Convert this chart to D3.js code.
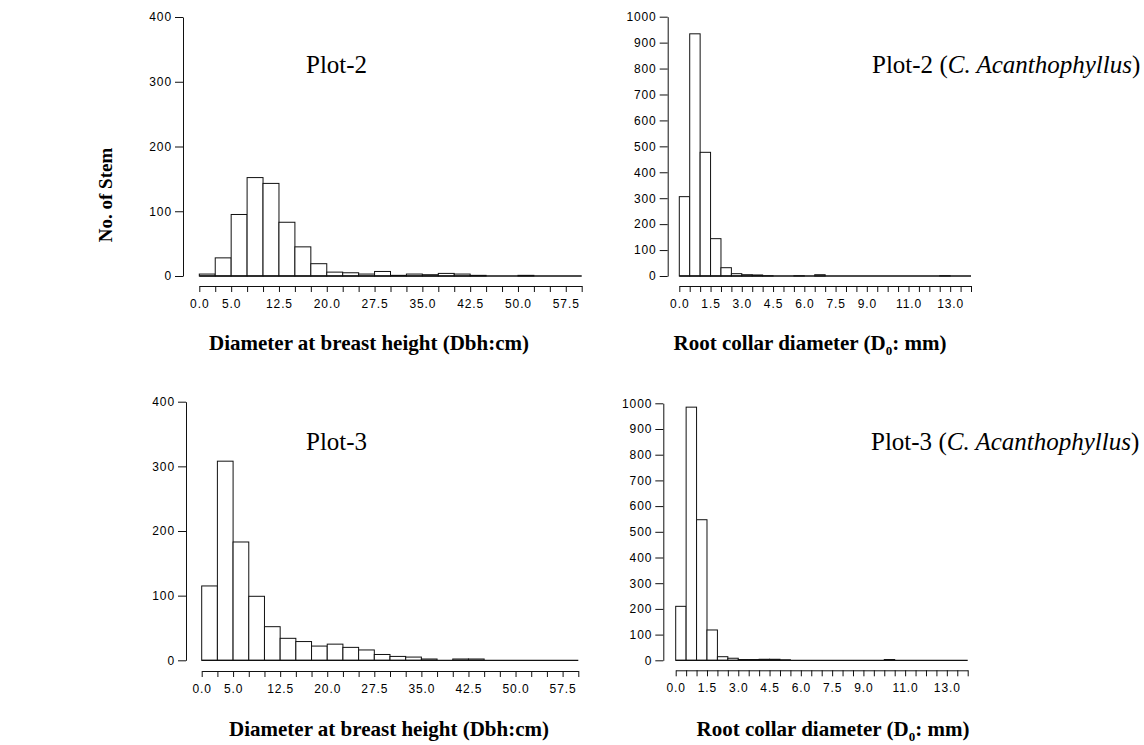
<!DOCTYPE html>
<html>
<head>
<meta charset="utf-8">
<script src="https://cdn.jsdelivr.net/npm/d3@7"></script>
<style>
  body { margin: 0; background: #fff; }
  svg { display: block; }
</style>
</head>
<body>
<script>
'use strict';

// histogram counts, one value per bin
const dbhBinWidth = 2.5;   // cm
const rcdBinWidth = 0.5;   // mm

const plot2Dbh = [3, 28, 95, 152, 143, 83, 45, 19, 6, 5, 3, 7, 1, 3, 2, 4, 3, 1, 0, 0, 1, 0, 0, 0];
const plot3Dbh = [115, 308, 183, 99, 52, 34, 29, 22, 25, 20, 16, 9, 6, 5, 2, 0, 2, 2, 0, 0, 0, 0, 0, 0];

const plot2Rcd = [306, 934, 477, 144, 32, 9, 5, 4, 1, 0, 0, 1, 0, 5, 0, 0, 0, 0, 0, 0,
                  0, 0, 0, 0, 0, 1, 0, 0];
const plot3Rcd = [210, 985, 547, 118, 14, 8, 3, 3, 4, 4, 2, 0, 0, 0, 0, 0, 0, 0, 0, 0,
                  3, 0, 0, 0, 0, 0, 0, 0];

// tick labels that are printed (the rest of the ticks stay unlabelled)
const dbhTickLabels = [0, 5, 12.5, 20, 27.5, 35, 42.5, 50, 57.5];
const rcdTickLabels = [0, 1.5, 3, 4.5, 6, 7.5, 9, 11, 13];
const dbhYTicks = [0, 100, 200, 300, 400];
const rcdYTicks = [0, 100, 200, 300, 400, 500, 600, 700, 800, 900, 1000];

const svg = d3.select('body')
  .append('svg')
  .attr('width', 1144)
  .attr('height', 745);

const serif = '"Liberation Serif", "Times New Roman", serif';
const sans = '"Liberation Sans", Arial, sans-serif';

// one histogram panel
function drawPanel(p) {
  let nBins = p.counts.length;
  let xMax = nBins * p.binWidth;

  let x = d3.scaleLinear()
    .domain([0, xMax])
    .range([p.x0, p.x1]);

  let y = d3.scaleLinear()
    .domain([0, p.yMax])
    .range([p.y0, p.yTop]);

  let g = svg.append('g');

  // bars
  g.selectAll('.bar')
    .data(p.counts)
    .enter()
    .append('rect')
      .attr('x', (d, i) => x(i * p.binWidth))
      .attr('y', (d) => y(d))
      .attr('width', x(p.binWidth) - x(0))
      .attr('height', (d) => y(0) - y(d))
      .attr('fill', '#fff')
      .attr('stroke', '#111')
      .attr('stroke-width', 1);

  // empty bins still leave a flat line on the base (like R's hist)
  g.append('line')
    .attr('x1', x(0))
    .attr('x2', x(xMax))
    .attr('y1', y(0))
    .attr('y2', y(0))
    .attr('stroke', '#111')
    .attr('stroke-width', 1.3);

  // y axis
  let yAxis = d3.axisLeft(y)
    .tickValues(p.yTicks)
    .tickSize(8)
    .tickSizeOuter(0)
    .tickPadding(3)
    .tickFormat(d3.format('d'));
  g.append('g')
    .attr('transform', 'translate(' + p.yAxisX + ',0)')
    .call(yAxis)
    .attr('font-family', sans)
    .attr('font-size', 12)
    .attr('letter-spacing', 0.9);

  // x axis, drawn a little below the bars like R does
  let edges = d3.range(nBins + 1).map((i) => i * p.binWidth);
  let xAxis = d3.axisBottom(x)
    .tickValues(edges)
    .tickSize(6)
    .tickSizeOuter(0)
    .tickPadding(7)
    .tickFormat((d) => p.xLabels.some((v) => Math.abs(v - d) < 1e-9) ? d.toFixed(1) : '');
  g.append('g')
    .attr('transform', 'translate(0,' + p.xAxisY + ')')
    .call(xAxis)
    .attr('font-family', sans)
    .attr('font-size', 12)
    .attr('letter-spacing', 0.9);

  g.selectAll('.domain, .tick line').attr('stroke', '#111');

  // plot name inside the panel
  let title = g.append('text')
    .attr('x', p.titleX)
    .attr('y', p.titleY)
    .attr('font-family', serif)
    .attr('font-size', 25)
    .attr('fill', '#000');
  title.append('tspan').text(p.title);
  if (p.species) {
    title.append('tspan').text(' (');
    title.append('tspan').attr('font-style', 'italic').text(p.species);
    title.append('tspan').text(')');
  }

  // x axis title
  let xt = g.append('text')
    .attr('x', p.xTitleX)
    .attr('y', p.xTitleY)
    .attr('text-anchor', 'middle')
    .attr('font-family', serif)
    .attr('font-weight', 'bold')
    .attr('font-size', 21)
    .attr('fill', '#000');
  if (p.rcd) {
    xt.append('tspan').text('Root collar diameter (D');
    xt.append('tspan').attr('font-size', 13).attr('dy', 5).text('0');
    xt.append('tspan').attr('dy', -5).text(': mm)');
  } else {
    xt.text('Diameter at breast height (Dbh:cm)');
  }
}

drawPanel({
  counts: plot2Dbh, binWidth: dbhBinWidth, yMax: 400, yTicks: dbhYTicks, xLabels: dbhTickLabels,
  x0: 199.3, x1: 581.7, y0: 276, yTop: 17, yAxisX: 183, xAxisY: 286,
  title: 'Plot-2', titleX: 306, titleY: 73, xTitleX: 369, xTitleY: 350
});

drawPanel({
  counts: plot2Rcd, binWidth: rcdBinWidth, yMax: 1000, yTicks: rcdYTicks, xLabels: rcdTickLabels,
  x0: 679.3, x1: 971, y0: 276, yTop: 16.7, yAxisX: 667.7, xAxisY: 286,
  title: 'Plot-2', species: 'C. Acanthophyllus', titleX: 872, titleY: 73,
  rcd: true, xTitleX: 810, xTitleY: 350
});

drawPanel({
  counts: plot3Dbh, binWidth: dbhBinWidth, yMax: 400, yTicks: dbhYTicks, xLabels: dbhTickLabels,
  x0: 201.7, x1: 578.3, y0: 660.3, yTop: 401.7, yAxisX: 186, xAxisY: 671,
  title: 'Plot-3', titleX: 306, titleY: 450, xTitleX: 389, xTitleY: 736
});

drawPanel({
  counts: plot3Rcd, binWidth: rcdBinWidth, yMax: 1000, yTicks: rcdYTicks, xLabels: rcdTickLabels,
  x0: 675.7, x1: 967.7, y0: 660.3, yTop: 403.3, yAxisX: 663.3, xAxisY: 670.3,
  title: 'Plot-3', species: 'C. Acanthophyllus', titleX: 871, titleY: 450,
  rcd: true, xTitleX: 833, xTitleY: 736
});

// shared y axis title
svg.append('text')
  .attr('transform', 'translate(112,195)rotate(-90)')
  .attr('text-anchor', 'middle')
  .attr('font-family', serif)
  .attr('font-weight', 'bold')
  .attr('font-size', 19)
  .attr('fill', '#000')
  .text('No. of Stem');
</script>
</body>
</html>
